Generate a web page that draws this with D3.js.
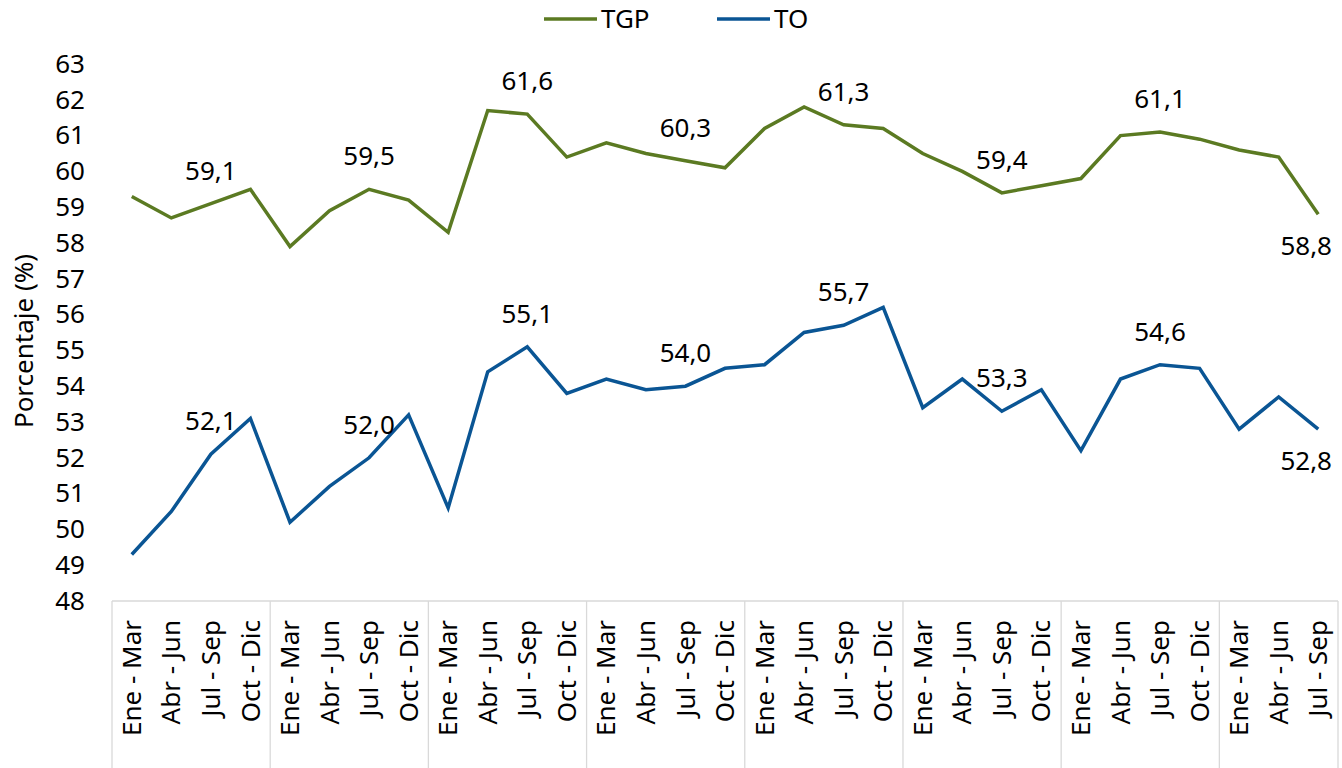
<!DOCTYPE html>
<html>
<head>
<meta charset="utf-8">
<script src="https://cdn.jsdelivr.net/npm/d3@7"></script>
<style>
    body { margin: 0; background: #fff; }
    svg { display: block; font-family: "Noto Sans", sans-serif; }
</style>
</head>
<body>
<div id="chart"></div>
<script>
// Quarter labels, repeated for each year (last year only up to Jul - Sep)
const quarters = ['Ene - Mar', 'Abr - Jun', 'Jul - Sep', 'Oct - Dic'];
const years = [1, 2, 3, 4, 5, 6, 7, 8];
const categories = [];
years.forEach((y, i) => {
    const n = i === years.length - 1 ? 3 : 4;
    for (let q = 0; q < n; q++) categories.push({ id: y + '-' + q, label: quarters[q] });
});

const tgp = [59.3, 58.7, 59.1, 59.5, 57.9, 58.9, 59.5, 59.2,
             58.3, 61.7, 61.6, 60.4, 60.8, 60.5, 60.3, 60.1,
             61.2, 61.8, 61.3, 61.2, 60.5, 60.0, 59.4, 59.6,
             59.8, 61.0, 61.1, 60.9, 60.6, 60.4, 58.8];
const to = [49.3, 50.5, 52.1, 53.1, 50.2, 51.2, 52.0, 53.2,
            50.6, 54.4, 55.1, 53.8, 54.2, 53.9, 54.0, 54.5,
            54.6, 55.5, 55.7, 56.2, 53.4, 54.2, 53.3, 53.9,
            52.2, 54.2, 54.6, 54.5, 52.8, 53.7, 52.8];
const yTicks = d3.range(48, 64);

const series = [
    { name: 'TGP', values: tgp, color: '#5b7a22' },
    { name: 'TO', values: to, color: '#0a5594' }
];

const width = 1342, height = 768;
const margin = { left: 112, right: 4, top: 64, bottom: 167 };

const svg = d3.select('#chart').append('svg')
    .attr('width', width)
    .attr('height', height);

const x = d3.scaleBand()
    .domain(categories.map(d => d.id))
    .range([margin.left, width - margin.right]);

const y = d3.scaleLinear()
    .domain([48, 63])
    .range([height - margin.bottom, margin.top]);

const fmt = v => d3.format('.1f')(v).replace('.', ',');

// Y axis: labels only
const yAxis = svg.append('g')
    .attr('transform', `translate(${margin.left - 27},0)`)
    .call(d3.axisLeft(y).tickValues(yTicks).tickSize(0).tickPadding(0));
yAxis.select('.domain').remove();
yAxis.selectAll('text')
    .attr('font-size', '26px')
    .attr('font-family', '"Noto Sans", sans-serif')
    .attr('fill', '#000');

svg.append('text')
    .attr('transform', `translate(33,341) rotate(-90)`)
    .attr('text-anchor', 'middle')
    .attr('font-size', '26px')
    .text('Porcentaje (%)');

// X axis: gray box with group separators
const base = y(48);
const grid = svg.append('g').attr('stroke', '#d9d9d9').attr('stroke-width', 1.3);
grid.append('line')
    .attr('x1', x.range()[0]).attr('x2', x.range()[1])
    .attr('y1', base).attr('y2', base);

const seps = [];
categories.forEach((d, i) => { if (i % 4 === 0) seps.push(x(d.id)); });
seps.push(x.range()[1]);
grid.selectAll('.sep')
    .data(seps)
    .enter().append('line')
    .attr('class', 'sep')
    .attr('x1', d => d).attr('x2', d => d)
    .attr('y1', base).attr('y2', height);

svg.append('g').selectAll('text')
    .data(categories)
    .enter().append('text')
    .attr('transform', d => `translate(${x(d.id) + x.bandwidth() / 2},${base + 19}) rotate(-90)`)
    .attr('text-anchor', 'end')
    .attr('dy', '0.35em')
    .attr('font-size', '26px')
    .text(d => d.label);

// Lines
const line = d3.line()
    .x((d, i) => x(categories[i].id) + x.bandwidth() / 2)
    .y(d => y(d));

svg.selectAll('.series')
    .data(series)
    .enter().append('path')
    .attr('class', 'series')
    .attr('d', d => line(d.values))
    .attr('fill', 'none')
    .attr('stroke', d => d.color)
    .attr('stroke-width', 3.5)
    .attr('stroke-linejoin', 'miter');

// Data labels on every Jul - Sep point (last one goes below, kept inside the edge)
series.forEach(s => {
    const last = s.values.length - 1;
    const labelled = s.values
        .map((v, i) => ({ v, i }))
        .filter(d => categories[d.i].label === 'Jul - Sep');
    svg.append('g').selectAll('text')
        .data(labelled)
        .enter().append('text')
        .attr('x', d => d.i === last ? width - 10 : x(categories[d.i].id) + x.bandwidth() / 2)
        .attr('y', d => d.i === last ? y(d.v) + 32 : y(d.v) - 33)
        .attr('text-anchor', d => d.i === last ? 'end' : 'middle')
        .attr('dy', '0.35em')
        .attr('font-size', '26px')
        .text(d => fmt(d.v));
});

// Legend
const legend = svg.append('g').selectAll('g')
    .data(series)
    .enter().append('g')
    .attr('transform', (d, i) => `translate(${544 + i * 173},19)`);
legend.append('line')
    .attr('x1', 0).attr('x2', 53)
    .attr('stroke', d => d.color)
    .attr('stroke-width', 3.5);
legend.append('text')
    .attr('x', 57)
    .attr('dy', '0.35em')
    .attr('font-size', '26px')
    .text(d => d.name);
</script>
</body>
</html>
